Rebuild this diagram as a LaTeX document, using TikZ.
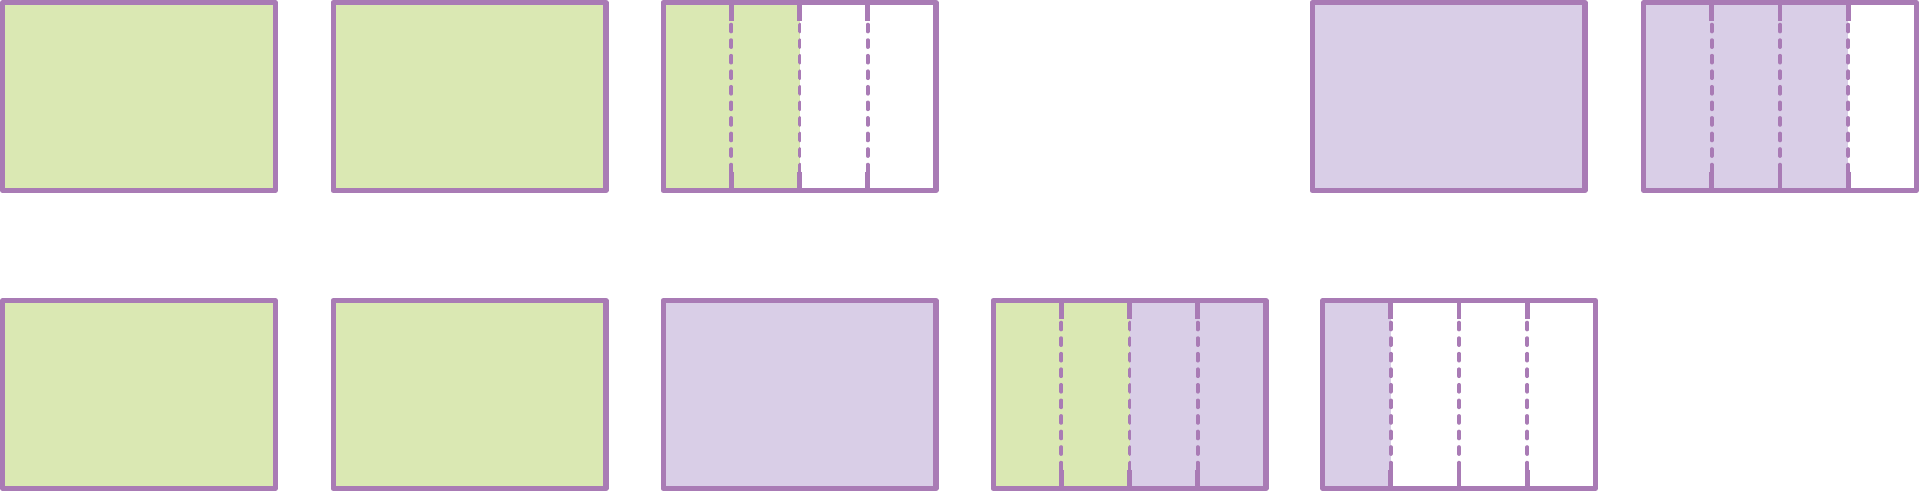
\documentclass[tikz,border=0pt]{standalone}
\definecolor{stk}{RGB}{169,123,181}
\definecolor{gfill}{RGB}{218,232,179}
\definecolor{lfill}{RGB}{217,206,231}
\tikzset{
  border/.style={draw=stk, line width=5.2pt, line join=round},
  divstub/.style={draw=stk, line width=4.8pt},
  divdash/.style={draw=stk, line width=3.8pt, line cap=round, dash pattern=on 6.9pt off 8.66pt},
}
\newcommand{\fullbox}[3]{%
  \begin{scope}[shift={(#1,#2)}]
    \fill[#3] (2.6,2.6) rectangle (275.4,190.4);
    \draw[border] (2.6,2.6) rectangle (275.4,190.4);
  \end{scope}}
\newcommand{\quartbox}[3]{%
  \begin{scope}[shift={(#1,#2)}]
    \foreach \c [count=\i from 0] in {#3} {
      \fill[\c] ({2.6+68.2*\i},2.6) rectangle ({2.6+68.2*(\i+1)},190.4);
    }
    \foreach \i in {1,2,3} {
      \draw[divstub] ({2.6+68.2*\i},2.6) -- ({2.6+68.2*\i},20.7);
      \draw[divdash] ({2.6+68.2*\i},24.6) -- ({2.6+68.2*\i},171.5);
      \draw[divstub] ({2.6+68.2*\i},171.8) -- ({2.6+68.2*\i},190.4);
    }
    \draw[border] (2.6,2.6) rectangle (275.4,190.4);
  \end{scope}}
\begin{document}
\begin{tikzpicture}[x=1pt,y=-1pt]
  \useasboundingbox (0,0) rectangle (1919,491);
  % top row
  \fullbox{0}{0}{gfill}
  \fullbox{330.5}{0}{gfill}
  \quartbox{660.5}{0}{gfill,gfill,white,white}
  \fullbox{1309.5}{0}{lfill}
  \quartbox{1641}{0}{lfill,lfill,lfill,white}
  % bottom row
  \fullbox{0}{298}{gfill}
  \fullbox{330.5}{298}{gfill}
  \fullbox{660.5}{298}{lfill}
  \quartbox{990.5}{298}{gfill,gfill,lfill,lfill}
  \quartbox{1320}{298}{lfill,white,white,white}
\end{tikzpicture}
\end{document}
